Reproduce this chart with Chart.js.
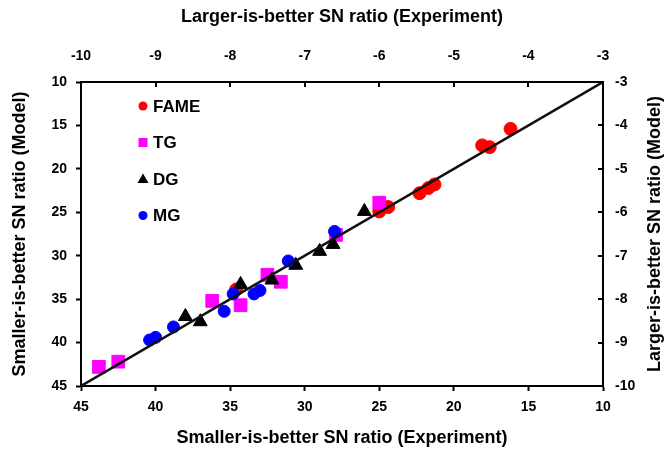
<!DOCTYPE html>
<html>
<head>
<meta charset="utf-8">
<script src="https://cdn.jsdelivr.net/npm/chart.js"></script>
<style>
  html, body { margin: 0; padding: 0; background: #fff; }
  #wrap { width: 668px; height: 454px; }
</style>
</head>
<body>
<div id="wrap"><canvas id="myChart" width="668" height="454"></canvas></div>
<script>
// values: smaller-is-better SN ratio, experiment (x) vs model (y)
const fameExp   = [34.6, 25.0, 24.4, 22.3, 21.7, 21.3, 18.1, 17.6, 16.2];
const fameModel = [33.9, 24.9, 24.4, 22.8, 22.2, 21.8, 17.3, 17.5, 15.4];

const tgExp   = [43.8, 42.5, 36.2, 34.3, 32.5, 31.6, 27.9, 25.0];
const tgModel = [42.8, 42.2, 35.2, 35.7, 32.2, 33.0, 27.6, 23.9];

const dgExp   = [38.0, 37.0, 34.3, 32.2, 30.6, 29.0, 28.1, 26.0];
const dgModel = [37.0, 37.6, 33.3, 32.8, 31.1, 29.5, 28.7, 24.9];

const mgExp   = [40.4, 40.0, 38.8, 35.4, 34.8, 33.4, 33.0, 31.1, 28.0];
const mgModel = [39.7, 39.4, 38.2, 36.4, 34.4, 34.4, 34.0, 30.6, 27.2];

// y = x reference line
const lineExp   = [45, 10];
const lineModel = [45, 10];

const seriesNames = ["FAME", "TG", "DG", "MG"];

const bottomTitle = "Smaller-is-better SN ratio (Experiment)";
const leftTitle   = "Smaller-is-better SN ratio (Model)";
const topTitle    = "Larger-is-better SN ratio (Experiment)";
const rightTitle  = "Larger-is-better SN ratio (Model)";

function pts(xs, ys) {
  return xs.map((x, i) => ({ x: x, y: ys[i] }));
}

const fontFamily = "'Liberation Sans', Arial, sans-serif";
const tickFont  = { family: fontFamily, size: 14, weight: 'bold' };
const titleFont = { family: fontFamily, size: 18, weight: 'bold' };

// ticks on the top and right axes point into the plot
const innerTicks = {
  id: 'innerTicks',
  afterDraw(chart) {
    const ctx = chart.ctx;
    const a = chart.chartArea;
    ctx.save();
    ctx.strokeStyle = '#000';
    ctx.lineWidth = 2;
    chart.scales.x2.ticks.forEach(t => {
      const px = Math.round(chart.scales.x2.getPixelForValue(t.value));
      ctx.beginPath();
      ctx.moveTo(px, a.top);
      ctx.lineTo(px, a.top + 5);
      ctx.stroke();
    });
    chart.scales.y2.ticks.forEach(t => {
      const py = Math.round(chart.scales.y2.getPixelForValue(t.value));
      ctx.beginPath();
      ctx.moveTo(a.right, py);
      ctx.lineTo(a.right - 5, py);
      ctx.stroke();
    });
    ctx.restore();
  }
};

// right axis title reads bottom to top, like the left one
const rightAxisTitle = {
  id: 'rightAxisTitle',
  afterDraw(chart) {
    const ctx = chart.ctx;
    const a = chart.chartArea;
    ctx.save();
    ctx.translate(chart.width - 13, (a.top + a.bottom) / 2);
    ctx.rotate(-Math.PI / 2);
    ctx.fillStyle = '#000';
    ctx.font = "bold 18px " + fontFamily;
    ctx.textAlign = 'center';
    ctx.textBaseline = 'middle';
    ctx.fillText(rightTitle, 0, 0);
    ctx.restore();
  }
};

// legend drawn inside the plot, top left
const insideLegend = {
  id: 'insideLegend',
  afterDraw(chart) {
    const ctx = chart.ctx;
    const a = chart.chartArea;
    ctx.save();
    seriesNames.forEach((name, i) => {
      const ds = chart.data.datasets.find(d => d.label === name);
      const x = a.left + 62;
      const y = a.top + 24 + i * 36.5;
      ctx.fillStyle = ds.backgroundColor;
      ctx.beginPath();
      if (ds.pointStyle === 'circle') {
        ctx.arc(x, y, 4.5, 0, Math.PI * 2);
      } else if (ds.pointStyle === 'rect') {
        ctx.rect(x - 4.5, y - 4.5, 9, 9);
      } else if (ds.pointStyle === 'triangle') {
        ctx.moveTo(x, y - 5.5);
        ctx.lineTo(x + 5.5, y + 4);
        ctx.lineTo(x - 5.5, y + 4);
        ctx.closePath();
      }
      ctx.fill();
      ctx.fillStyle = '#000';
      ctx.font = "bold 17px " + fontFamily;
      ctx.textBaseline = 'middle';
      ctx.fillText(name, x + 10, y + 1);
    });
    ctx.restore();
  }
};

const ctx = document.getElementById("myChart").getContext('2d');
const chart = new Chart(ctx, {
  type: 'scatter',
  data: {
    datasets: [
      {
        type: 'line',
        label: 'y=x',
        data: pts(lineExp, lineModel),
        borderColor: '#111',
        borderWidth: 2.5,
        pointRadius: 0,
        fill: false,
        order: 0
      },
      {
        label: "MG",
        data: pts(mgExp, mgModel),
        pointStyle: 'circle',
        backgroundColor: '#0000ff',
        borderColor: '#0000ff',
        pointRadius: 6,
        order: 1
      },
      {
        label: "DG",
        data: pts(dgExp, dgModel),
        pointStyle: 'triangle',
        backgroundColor: '#000000',
        borderColor: '#000000',
        pointRadius: 8,
        order: 2
      },
      {
        label: "TG",
        data: pts(tgExp, tgModel),
        pointStyle: 'rect',
        backgroundColor: '#ff00ff',
        borderColor: '#ff00ff',
        pointRadius: 9,
        order: 3
      },
      {
        label: "FAME",
        data: pts(fameExp, fameModel),
        pointStyle: 'circle',
        backgroundColor: '#ff0000',
        borderColor: '#ff0000',
        pointRadius: 6.5,
        order: 4
      }
    ]
  },
  options: {
    responsive: false,
    animation: false,
    layout: { padding: 0 },
    plugins: {
      legend: { display: false },
      tooltip: { enabled: false }
    },
    scales: {
      x: {
        type: 'linear',
        position: 'bottom',
        min: 10, max: 45, reverse: true,
        afterFit(s) { s.height = 68; },
        ticks: { stepSize: 5, color: '#000', font: tickFont, padding: 8 },
        grid: { drawOnChartArea: false, drawTicks: true, tickLength: 5, tickWidth: 2, tickColor: '#000' },
        border: { display: true, color: '#000', width: 2 },
        title: { display: true, text: bottomTitle, color: '#000', font: titleFont, padding: { top: 0, bottom: 5 } }
      },
      y: {
        type: 'linear',
        position: 'left',
        min: 10, max: 45, reverse: true,
        afterFit(s) { s.width = 81; },
        ticks: { stepSize: 5, color: '#000', font: tickFont, padding: 9 },
        grid: { drawOnChartArea: false, drawTicks: true, tickLength: 5, tickWidth: 2, tickColor: '#000' },
        border: { display: true, color: '#000', width: 2 },
        title: { display: true, text: leftTitle, color: '#000', font: titleFont, padding: { top: 9, bottom: 0 } }
      },
      x2: {
        type: 'linear',
        position: 'top',
        min: -10, max: -3,
        afterFit(s) { s.height = 82; },
        ticks: { stepSize: 1, color: '#000', font: tickFont, padding: 17 },
        grid: { display: false, drawTicks: false },
        border: { display: true, color: '#000', width: 2 },
        title: { display: true, text: topTitle, color: '#000', font: titleFont, padding: { top: 6, bottom: 0 } }
      },
      y2: {
        type: 'linear',
        position: 'right',
        min: -10, max: -3,
        afterFit(s) { s.width = 65; },
        ticks: { stepSize: 1, color: '#000', font: tickFont, padding: 12 },
        grid: { display: false, drawTicks: false },
        border: { display: true, color: '#000', width: 2 },
        title: { display: false }
      }
    }
  },
  plugins: [innerTicks, rightAxisTitle, insideLegend]
});
</script>
</body>
</html>
